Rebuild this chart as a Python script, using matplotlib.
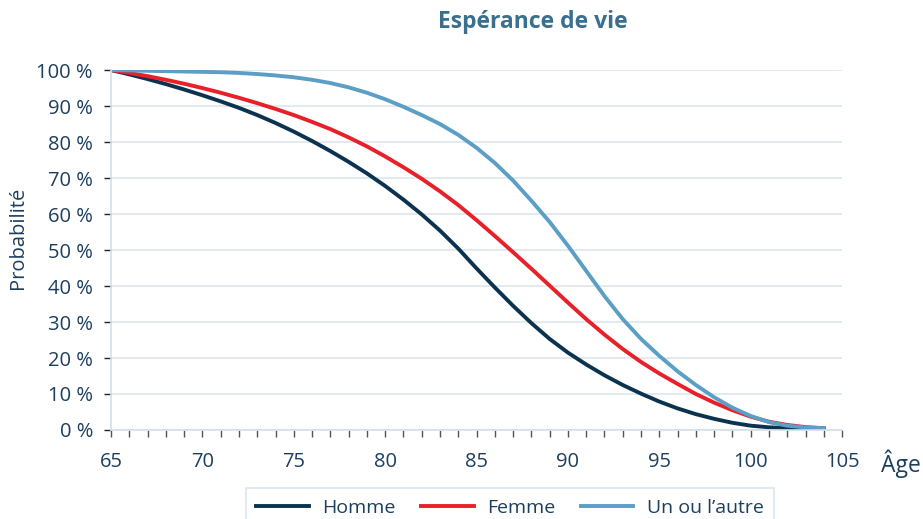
import matplotlib.pyplot as plt
from matplotlib.ticker import MultipleLocator, FuncFormatter

plt.rcParams['font.family'] = ['Open Sans', 'DejaVu Sans']

# Données (probabilité de survie en %)
ages = list(range(65, 105))
homme = [100, 98.8, 97.5, 96.1, 94.6, 93.0, 91.3, 89.5, 87.5, 85.3,
         82.9, 80.3, 77.5, 74.5, 71.3, 67.8, 64.0, 59.9, 55.4, 50.4,
         44.9, 39.6, 34.5, 29.7, 25.3, 21.5, 18.2, 15.2, 12.5, 10.1,
         7.9, 6.0, 4.4, 3.1, 2.0, 1.2, 0.75, 0.5, 0.35, 0.3]
femme = [100, 99.2, 98.3, 97.3, 96.2, 95.0, 93.7, 92.3, 90.8, 89.2,
         87.5, 85.6, 83.6, 81.3, 78.8, 76.0, 73.0, 69.8, 66.3, 62.5,
         58.3, 53.9, 49.4, 44.8, 40.1, 35.4, 30.8, 26.5, 22.5, 18.9,
         15.7, 12.8, 10.0, 7.6, 5.5, 3.7, 2.3, 1.4, 0.8, 0.5]
un_ou_autre = [100, 99.9, 99.8, 99.7, 99.6, 99.5, 99.4, 99.2, 98.9, 98.5,
               98.0, 97.3, 96.4, 95.2, 93.7, 91.9, 89.8, 87.5, 85.0, 82.0,
               78.4, 74.2, 69.3, 63.7, 57.8, 51.2, 44.2, 37.2, 30.8, 25.3,
               20.6, 16.3, 12.5, 9.1, 6.2, 3.9, 2.2, 1.2, 0.7, 0.5]

txt = '#1d3f5e'

fig = plt.figure(figsize=(9.23, 5.19), dpi=100)
ax = fig.add_axes([0.1203, 0.1715, 0.792, 0.6935])

ax.plot(ages, homme, color='#0b3350', lw=2.8, label='Homme')
ax.plot(ages, femme, color='#e8202a', lw=2.8, label='Femme')
ax.plot(ages, un_ou_autre, color='#5b9ec6', lw=2.8, label='Un ou l\u2019autre')

ax.set_xlim(65, 105)
ax.set_ylim(0, 100)
ax.xaxis.set_major_locator(MultipleLocator(5))
ax.xaxis.set_minor_locator(MultipleLocator(1))
ax.yaxis.set_major_locator(MultipleLocator(10))
ax.yaxis.set_major_formatter(FuncFormatter(lambda v, p: f'{v:.0f} %'))

ax.grid(axis='y', color='#dde6ee', lw=1.2)
ax.set_axisbelow(True)
for s in ['top', 'right']:
    ax.spines[s].set_visible(False)
for s in ['left', 'bottom']:
    ax.spines[s].set_color('#d3dfea')
    ax.spines[s].set_linewidth(1.2)

ax.tick_params(axis='x', which='both', direction='out', length=5, width=1,
               color='#555555', labelsize=14.5, labelcolor=txt, pad=11)
ax.tick_params(axis='y', direction='out', length=5, width=1, color='#222222',
               labelsize=14.5, labelcolor=txt, pad=8)

ax.set_ylabel('Probabilité', fontsize=14.5, color=txt)
ax.yaxis.set_label_coords(-0.113, 0.535)
ax.text(1.081, -0.095, 'Âge', transform=ax.transAxes, fontsize=16.5,
        color=txt, ha='center', va='center')

fig.text(533 / 923, 1 - 22 / 519, 'Espérance de vie', fontsize=16.5,
         fontweight='bold', color='#3a6f8f', ha='center', va='center')

leg = fig.legend(loc='upper center', bbox_to_anchor=(510 / 923, 1 - 488 / 519),
                 ncol=3, frameon=True, fancybox=False, fontsize=14,
                 handlelength=2.7, handletextpad=0.7, columnspacing=1.3,
                 borderpad=0.55, borderaxespad=0)
leg.get_frame().set_edgecolor('#d3dfea')
leg.get_frame().set_linewidth(1.2)
for t in leg.get_texts():
    t.set_color(txt)

fig.savefig('out.png', dpi=100)
